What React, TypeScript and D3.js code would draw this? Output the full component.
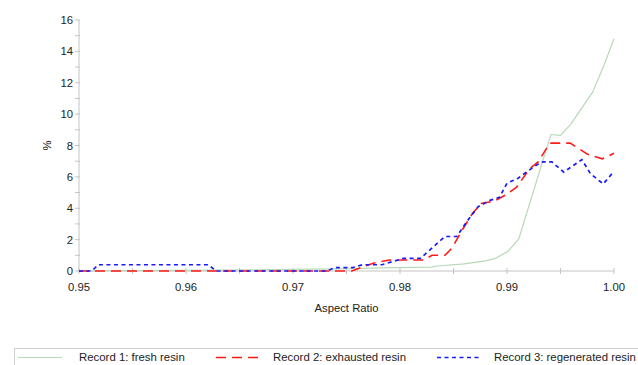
import React from "react";
import * as d3 from "d3";

// Aspect ratio distribution (%) for three resin records
const freshX = [0.95, 0.962, 0.97, 0.976, 0.978, 0.983, 0.9835, 0.986, 0.988, 0.9889, 0.9901, 0.9911, 0.9941, 0.995, 0.996, 0.998, 0.999, 1.0];
const freshY = [0.0, 0.05, 0.1, 0.15, 0.2, 0.25, 0.32, 0.45, 0.65, 0.8, 1.25, 2.05, 8.7, 8.65, 9.4, 11.4, 13.0, 14.8];

const exhaustedX = [0.95, 0.9755, 0.9765, 0.9775, 0.979, 0.9822, 0.983, 0.9842, 0.9849, 0.9858, 0.9868, 0.9876, 0.9888, 0.99, 0.9909, 0.9921, 0.9929, 0.994, 0.9959, 0.9966, 0.9975, 0.9989, 1.0];
const exhaustedY = [0.0, 0.0, 0.25, 0.5, 0.7, 0.7, 1.0, 1.0, 1.5, 2.6, 3.7, 4.3, 4.45, 4.9, 5.35, 6.5, 6.95, 8.15, 8.15, 7.85, 7.45, 7.15, 7.5];

const regeneratedX = [0.95, 0.9512, 0.9518, 0.9621, 0.9628, 0.9732, 0.9739, 0.9756, 0.9765, 0.9783, 0.9803, 0.9819, 0.9842, 0.9853, 0.9863, 0.9873, 0.9884, 0.9893, 0.99, 0.991, 0.992, 0.9932, 0.9942, 0.9953, 0.997, 0.9978, 0.999, 1.0];
const regeneratedY = [0.0, 0.0, 0.4, 0.4, 0.0, 0.0, 0.22, 0.22, 0.4, 0.4, 0.8, 0.8, 2.2, 2.2, 3.2, 4.1, 4.5, 4.7, 5.6, 5.9, 6.4, 6.95, 6.95, 6.3, 7.1, 6.2, 5.55, 6.35];

const xMajorTicks = [0.95, 0.96, 0.97, 0.98, 0.99, 1.0];
const xMinorTicks = [0.955, 0.965, 0.975, 0.985, 0.995];
const yTickValues = d3.range(0, 17, 1);
const yLabelValues = [0, 2, 4, 6, 8, 10, 12, 14, 16];

const seriesNames = ["Record 1: fresh resin", "Record 2: exhausted resin", "Record 3: regenerated resin"];

const W = 638;
const H = 365;
const FONT = "'Liberation Sans', Arial, sans-serif";
const AXIS = "#c4c4c4";

export default function App() {
  const x = d3.scaleLinear().domain([0.95, 1.0]).range([79, 614]);
  const y = d3.scaleLinear().domain([0, 16]).range([271, 20]);

  const line = d3
    .line<[number, number]>()
    .x((d) => x(d[0]))
    .y((d) => y(d[1]));

  const zip = (xs: number[], ys: number[]) => xs.map((v, i) => [v, ys[i]] as [number, number]);

  const series = [
    { name: seriesNames[0], data: zip(freshX, freshY), color: "#b7d9b9", width: 1.2, dash: "" },
    { name: seriesNames[1], data: zip(exhaustedX, exhaustedY), color: "#ff1a1a", width: 1.6, dash: "10,6" },
    { name: seriesNames[2], data: zip(regeneratedX, regeneratedY), color: "#1a1aff", width: 1.7, dash: "4,3.5" },
  ];

  const legendItems = [
    { lx: 18, lw: 44, tx: 79 },
    { lx: 216, lw: 44, tx: 273 },
    { lx: 437, lw: 45, tx: 494 },
  ];

  return (
    <svg width={W} height={H} style={{ position: "absolute", left: 0, top: 0, background: "#fff" }} fontFamily={FONT}>
      <rect x={0} y={0} width={W} height={H} fill="#fff" />
      {/* y axis */}
      <line x1={79} x2={79} y1={y(16)} y2={y(0)} stroke={AXIS} />
      {yTickValues.map((t) => (
        <line key={"yt" + t} x1={75} x2={80} y1={y(t)} y2={y(t)} stroke={AXIS} />
      ))}
      {yLabelValues.map((t) => (
        <text key={"yl" + t} x={73} y={y(t) + 4} textAnchor="end" fontSize={11.3} fill="#222">
          {t}
        </text>
      ))}
      <text transform={`translate(51,${y(8)}) rotate(-90)`} textAnchor="middle" fontSize={11.3} fill="#222">
        %
      </text>

      {/* x axis */}
      <line x1={x(0.95)} x2={x(1.0)} y1={y(0)} y2={y(0)} stroke={AXIS} />
      {[...xMajorTicks, ...xMinorTicks].map((t) => (
        <line key={"xt" + t} x1={x(t)} x2={x(t)} y1={268} y2={274} stroke={AXIS} />
      ))}
      {xMajorTicks.map((t) => (
        <text key={"xl" + t} x={x(t)} y={291} textAnchor="middle" fontSize={11.3} fill="#222">
          {t.toFixed(2)}
        </text>
      ))}
      <text x={x(0.975)} y={312} textAnchor="middle" fontSize={11.3} fill="#222">
        Aspect Ratio
      </text>

      {/* series */}
      {series.map((s) => (
        <path
          key={s.name}
          d={line(s.data) || ""}
          fill="none"
          stroke={s.color}
          strokeWidth={s.width}
          strokeDasharray={s.dash || undefined}
        />
      ))}

      {/* legend */}
      <rect x={14.5} y={348.5} width={640} height={30} fill="none" stroke="#d0d0d0" />
      {series.map((s, i) => (
        <g key={"lg" + i}>
          <line
            x1={legendItems[i].lx}
            x2={legendItems[i].lx + legendItems[i].lw}
            y1={357.5}
            y2={357.5}
            stroke={s.color}
            strokeWidth={s.width}
            strokeDasharray={s.dash || undefined}
          />
          <text x={legendItems[i].tx} y={361} fontSize={11.4} fill="#222">
            {s.name}
          </text>
        </g>
      ))}
    </svg>
  );
}
